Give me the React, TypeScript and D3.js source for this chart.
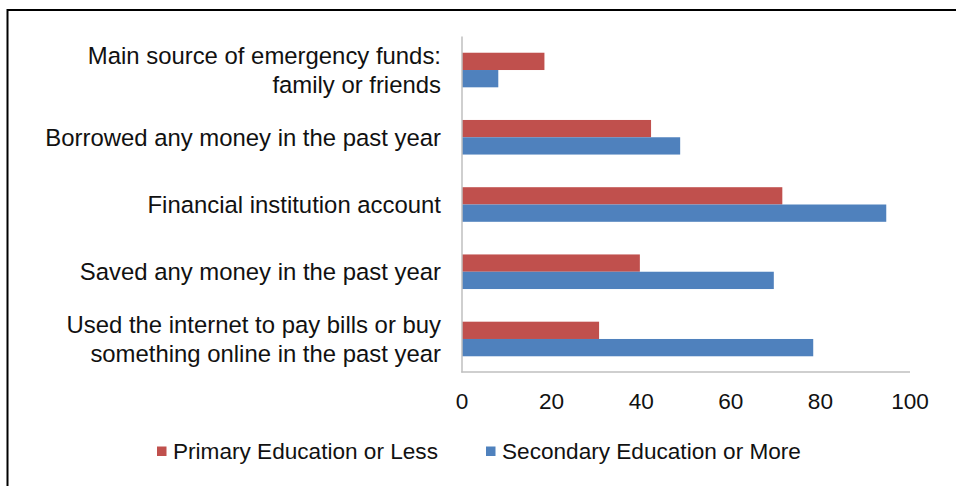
import React from "react";
import * as d3 from "d3";

const categories = [
  ["Main source of emergency funds:", "family or friends"],
  ["Borrowed any money in the past year"],
  ["Financial institution account"],
  ["Saved any money in the past year"],
  ["Used the internet to pay bills or buy", "something online in the past year"],
];
const seriesNames = ["Primary Education or Less", "Secondary Education or More"];
const primaryValues = [18.4, 42.2, 71.5, 39.7, 30.6];
const secondaryValues = [8.1, 48.7, 94.7, 69.6, 78.4];
const tickValues = [0, 20, 40, 60, 80, 100];
const colors = ["#C0504D", "#4F81BD"];

const W = 956;
const H = 486;
const FONT = "'Liberation Sans', Arial, sans-serif";

export default function App() {
  const x = d3.scaleLinear().domain([0, 100]).range([462, 910]);
  const keys = categories.map((_, i) => String(i));
  const y = d3.scaleBand().domain(keys).range([36.4, 372.6]).paddingInner(0).paddingOuter(0);
  const sub = d3.scaleBand().domain(["0", "1"]).range([0, y.bandwidth()]).paddingInner(0).paddingOuter(0.944);
  const values = [primaryValues, secondaryValues];

  return (
    <svg width={W} height={H} style={{ position: "absolute", left: 0, top: 0, background: "#fff" }} fontFamily={FONT}>
      <rect x={0} y={0} width={W} height={H} fill="#fff" />
      {/* frame */}
      <line x1={7.5} y1={10} x2={W} y2={10} stroke="#000" strokeWidth={2} />
      <line x1={7.5} y1={9} x2={7.5} y2={H} stroke="#000" strokeWidth={2} />

      {/* bars */}
      {keys.map((k, i) => (
        <g key={k} transform={`translate(0,${y(k)})`}>
          {values.map((vals, s) => (
            <rect
              key={s}
              x={x(0)}
              y={sub(String(s))}
              width={x(vals[i]) - x(0)}
              height={sub.bandwidth()}
              fill={colors[s]}
            />
          ))}
        </g>
      ))}

      {/* axes */}
      <line x1={x(0)} y1={y.range()[0]} x2={x(0)} y2={y.range()[1]} stroke="#BFBFBF" strokeWidth={1.5} />
      <line x1={x(0) - 0.75} y1={372} x2={x(100)} y2={372} stroke="#BFBFBF" strokeWidth={1.5} />

      {/* x tick labels */}
      {tickValues.map((t) => (
        <text key={t} x={x(t)} y={409.3} textAnchor="middle" fontSize={22.6} fill="#111">
          {t}
        </text>
      ))}

      {/* category labels */}
      {categories.map((lines, i) => {
        const cy = (y(String(i)) as number) + y.bandwidth() / 2;
        const lh = 29;
        const start = cy - ((lines.length - 1) * lh) / 2;
        return (
          <text key={i} textAnchor="end" fontSize={23.9} fill="#111">
            {lines.map((ln, j) => (
              <tspan key={j} x={441} y={start + j * lh} dy="0.35em">
                {ln}
              </tspan>
            ))}
          </text>
        );
      })}

      {/* legend */}
      {seriesNames.map((name, s) => {
        const lx = s === 0 ? 157 : 486;
        return (
          <g key={name}>
            <rect x={lx} y={446.5} width={9.5} height={9.5} fill={colors[s]} />
            <text x={lx + 16} y={459.3} fontSize={22.6} fill="#111">
              {name}
            </text>
          </g>
        );
      })}
    </svg>
  );
}
